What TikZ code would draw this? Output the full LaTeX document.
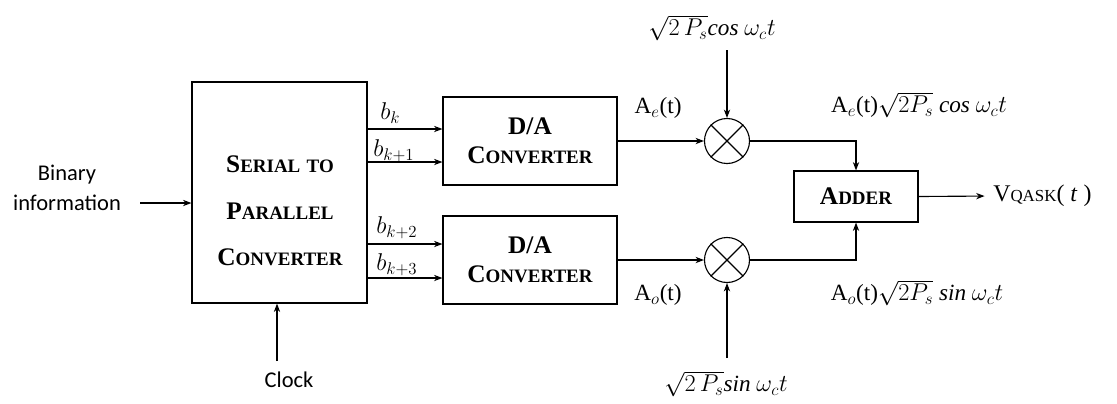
\documentclass[tikz,border=0pt]{standalone}
\usepackage{fontspec}
\setmainfont{Liberation Serif}
\newfontfamily\calfont{Carlito}
\usetikzlibrary{arrows.meta}

% capital letter followed by smaller capitals
\newcommand\fsc[2]{#1{\fontsize{13.5}{15}\selectfont #2}}

\tikzset{
  blk/.style={draw, line width=0.8pt, inner sep=0pt, align=center,
    font=\fontsize{18}{21}\selectfont\bfseries},
  mult/.style={draw, circle, line width=0.8pt, inner sep=0pt, minimum size=1.125cm},
  sig/.style={-{Stealth[length=6pt,width=4.5pt]}, line width=0.8pt},
  lbl/.style={inner sep=0pt, font=\fontsize{16.5}{19}\selectfont},
  side/.style={inner sep=0pt, align=center, font=\calfont\fontsize{16}{21}\selectfont}
}

\begin{document}
\begin{tikzpicture}[x=0.025cm, y=-0.025cm]
  \useasboundingbox (0,0) rectangle (1117,403);

  % blocks
  \node[blk, minimum width=4.375cm, minimum height=5.525cm] (sp) at (279.5,192.5) {};
  \node[inner sep=0pt, align=center, font=\fontsize{18}{33}\selectfont\bfseries] (spt) at (280,211)
    {\fsc{S}{ERIAL} \fsc{}{TO}\\\fsc{P}{ARALLEL}\\\fsc{C}{ONVERTER}};
  \node[blk, minimum width=4.35cm, minimum height=2.2cm] (da1) at (530,141) {D/A\\\fsc{C}{ONVERTER}};
  \node[blk, minimum width=4.35cm, minimum height=2.2cm] (da2) at (530,260) {D/A\\\fsc{C}{ONVERTER}};
  \node[blk, minimum width=3.1cm, minimum height=1.275cm] (add) at (856,196.5) {\fsc{A}{DDER}};

  % multipliers
  \node[mult] (m1) at (727,141) {};
  \node[mult] (m2) at (727,260) {};
  \foreach \m in {m1,m2}
    \draw[line width=0.8pt] (\m.45) -- (\m.225) (\m.135) -- (\m.315);

  % inputs
  \node[side] (bin) at (67,188) {Binary\\information};
  \coordinate (binin) at (140,203);
  \draw[sig] (binin) -- (binin -| sp.west);

  \node[side] (clk) at (289,380) {Clock};
  \coordinate (clkin) at (277,361);
  \draw[sig] (clkin) -- (clkin |- sp.south);

  % parallel bits
  \foreach \y/\d in {129/da1,162/da1,244/da2,278/da2}
    \draw[sig] (sp.east |- 0,\y) -- (\d.west |- 0,\y);
  \node[lbl, anchor=west] (bk)  at (380,113) {$b_{k}$};
  \node[lbl, anchor=west] (bk1) at (373,151) {$b_{k+1}$};
  \node[lbl, anchor=west] (bk2) at (376,228) {$b_{k+2}$};
  \node[lbl, anchor=west] (bk3) at (376,265) {$b_{k+3}$};

  % D/A outputs
  \draw[sig] (da1.east |- m1.west) -- (m1.west);
  \draw[sig] (da2.east |- m2.west) -- (m2.west);
  \node[lbl] (ae) at (658,108) {A$_e$(t)};
  \node[lbl] (ao) at (658,295) {A$_o$(t)};

  % carriers
  \node[lbl] (c1) at (712,28) {$\sqrt{2\,P_s}$\textit{cos} $\omega_c t$};
  \coordinate (c1in) at (727,50);
  \draw[sig] (c1in) -- (m1.north);
  \node[lbl] (c2) at (726,384) {$\sqrt{2\,P_s}$\textit{sin} $\omega_c t$};
  \coordinate (c2in) at (727,358);
  \draw[sig] (c2in) -- (m2.south);

  % products into adder
  \draw[sig] (m1.east) -| (add.north);
  \draw[sig] (m2.east) -| (add.south);
  \node[lbl] (p1) at (919,105) {A$_e$(t)$\sqrt{2P_s}$ \textit{cos} $\omega_c t$};
  \node[lbl] (p2) at (917,293) {A$_o$(t)$\sqrt{2P_s}$ \textit{sin} $\omega_c t$};

  % output
  \node[lbl, anchor=west, inner sep=0pt, font=\fontsize{17}{19}\selectfont] (vq) at (993,196)
    {V{\fontsize{12}{14}\selectfont QASK}( \textit{t} )};
  \draw[sig, shorten >=6pt] (add.east) -- (vq.west);
\end{tikzpicture}
\end{document}
